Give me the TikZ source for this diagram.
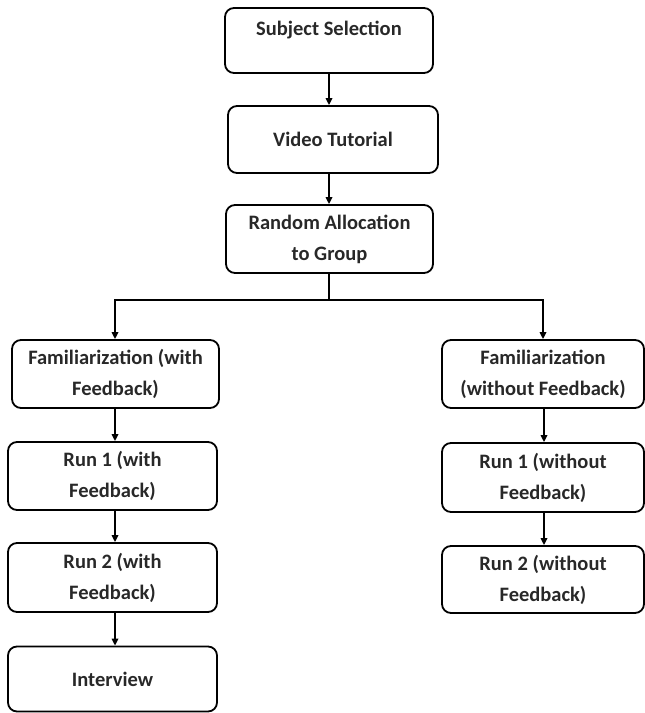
\documentclass[tikz,border=0pt]{standalone}
\usepackage{fontspec}
\setmainfont{Carlito}
\usetikzlibrary{arrows.meta}
\definecolor{txt}{RGB}{40,40,40}
\tikzset{
  box/.style={draw=black, line width=1.8pt, rounded corners=9pt, inner sep=0pt,
    text=txt, font=\bfseries\fontsize{20.5}{31}\selectfont, align=center},
  lbl/.style={inner sep=0pt, text=txt, font=\bfseries\fontsize{20.5}{31}\selectfont},
  conn/.style={draw=black, line width=1.6pt, -{Triangle[length=7pt,width=6.5pt]}},
  plain/.style={draw=black, line width=1.6pt}
}
\begin{document}
\begin{tikzpicture}[x=1pt,y=-1pt]
\useasboundingbox (0,0) rectangle (645,713);
% top column
\node[box, minimum width=208pt, minimum height=65pt] (s1) at (329,40.5) {};
\node[lbl] (s1t) at (329,30) {Subject Selection};
\node[box, minimum width=210pt, minimum height=67pt] (s2) at (333,139.5) {Video Tutorial};
\node[box, minimum width=207pt, minimum height=68pt] (s3) at (329.5,239) {Random Allocation\\to Group};
% left column
\node[box, minimum width=207pt, minimum height=68pt] (l1) at (115.5,374) {Familiarization (with\\Feedback)};
\node[box, minimum width=209pt, minimum height=68pt] (l2) at (112.5,476) {Run 1 (with\\Feedback)};
\node[box, minimum width=209pt, minimum height=69pt] (l3) at (112.5,577.5) {Run 2 (with\\Feedback)};
\node[box, minimum width=209pt, minimum height=65pt] (l4) at (112.5,679) {Interview};
% right column
\node[box, minimum width=202pt, minimum height=68pt] (r1) at (543,374) {Familiarization\\(without Feedback)};
\node[box, minimum width=202pt, minimum height=69pt] (r2) at (543,477.5) {Run 1 (without\\Feedback)};
\node[box, minimum width=202pt, minimum height=67pt] (r3) at (543,579.5) {Run 2 (without\\Feedback)};
% branch coordinates
\coordinate (bm) at (329,300);
\coordinate (bl) at (115,300);
\coordinate (br) at (543,300);
% connectors
\draw[conn] (s1.south -| 329,0) -- (s2.north -| 329,0);
\draw[conn] (s2.south -| 329,0) -- (s3.north -| 329,0);
\draw[plain] (s3.south -| bm) -- (bm);
\draw[conn] (bm) -- (bl) -- (l1.north -| bl);
\draw[conn] (bm) -- (br) -- (r1.north -| br);
\draw[conn] (l1.south -| 115,0) -- (l2.north -| 115,0);
\draw[conn] (l2.south -| 115,0) -- (l3.north -| 115,0);
\draw[conn] (l3.south -| 115,0) -- (l4.north -| 115,0);
\draw[conn] (r1.south -| 544,0) -- (r2.north -| 544,0);
\draw[conn] (r2.south -| 544,0) -- (r3.north -| 544,0);
\end{tikzpicture}
\end{document}
